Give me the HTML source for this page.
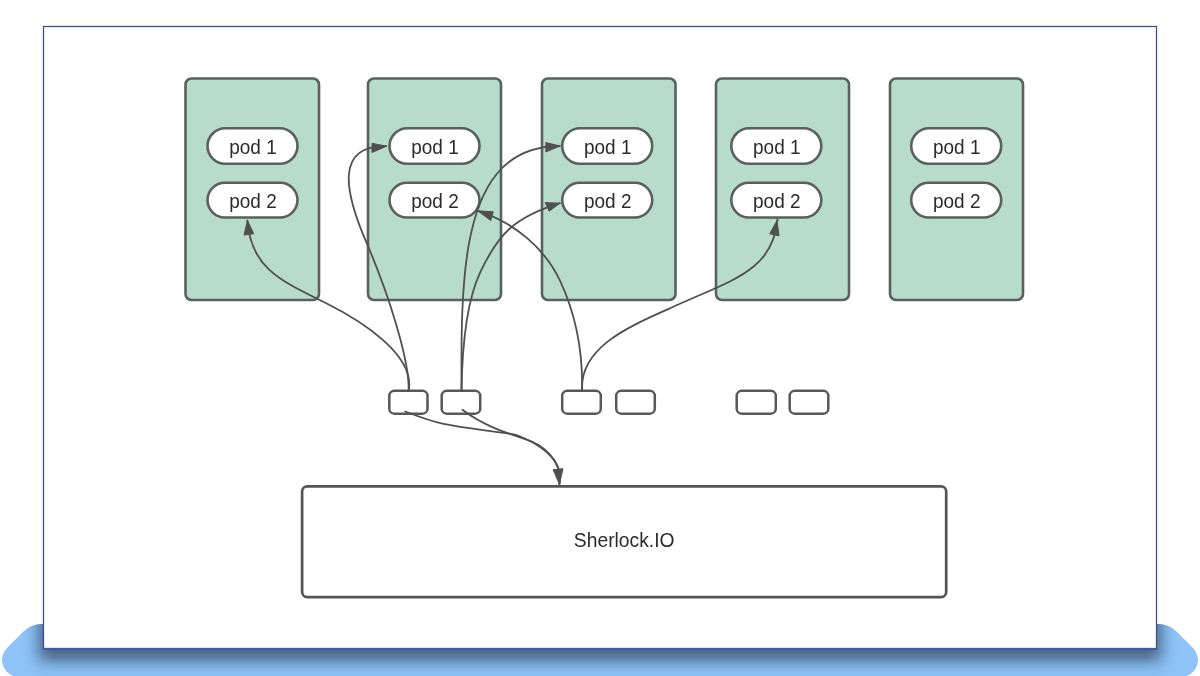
<!DOCTYPE html>
<html><head><meta charset="utf-8"><style>
html,body{margin:0;padding:0;background:#fff;width:1200px;height:676px;overflow:hidden}
svg{display:block;will-change:transform}
text{font-family:"Liberation Sans",sans-serif;font-size:19px;fill:#2b2b2b;text-anchor:middle}
</style></head><body>
<svg width="1200" height="676" viewBox="0 0 1200 676">
<defs>
<clipPath id="plat"><path d="M41.8 624 L1158.2 624 A26 26 0 0 1 1176.6 631.6 L1193 648 A17 17 0 0 1 1181 677 L19 677 A17 17 0 0 1 7 648 L23.4 631.6 A26 26 0 0 1 41.8 624 Z"/></clipPath>
<filter id="blur" x="-10%" y="-10%" width="120%" height="120%"><feGaussianBlur stdDeviation="7.5"/></filter>
</defs>
<path d="M41.8 624 L1158.2 624 A26 26 0 0 1 1176.6 631.6 L1193 648 A17 17 0 0 1 1181 677 L19 677 A17 17 0 0 1 7 648 L23.4 631.6 A26 26 0 0 1 41.8 624 Z" fill="#8ec3f8"/>
<g clip-path="url(#plat)"><rect x="39" y="30" width="1122" height="631" fill="#0a1525" opacity="0.56" filter="url(#blur)"/></g>
<rect x="43.5" y="26.5" width="1113" height="622" fill="#fff" stroke="#3f5088" stroke-width="1.3"/>
<line x1="43" y1="649" x2="1157.3" y2="649" stroke="#3f5ba3" stroke-width="2"/>
<rect x="185.5" y="78.5" width="133.5" height="221.5" rx="6" fill="#b8dccc" stroke="#59605d" stroke-width="2.6"/>
<rect x="207.5" y="128.3" width="90" height="35.5" rx="17.8" fill="#fff" stroke="#59605d" stroke-width="2.6"/>
<text transform="translate(253.0 154.2) scale(1 1.045)">pod 1</text>
<rect x="207.5" y="182.7" width="90" height="34.8" rx="17.4" fill="#fff" stroke="#59605d" stroke-width="2.6"/>
<text transform="translate(253.0 208.1) scale(1 1.045)">pod 2</text>
<rect x="368.0" y="78.5" width="133.0" height="221.5" rx="6" fill="#b8dccc" stroke="#59605d" stroke-width="2.6"/>
<rect x="389.5" y="128.3" width="90" height="35.5" rx="17.8" fill="#fff" stroke="#59605d" stroke-width="2.6"/>
<text transform="translate(435.0 154.2) scale(1 1.045)">pod 1</text>
<rect x="389.5" y="182.7" width="90" height="34.8" rx="17.4" fill="#fff" stroke="#59605d" stroke-width="2.6"/>
<text transform="translate(435.0 208.1) scale(1 1.045)">pod 2</text>
<rect x="542.0" y="78.5" width="133.5" height="221.5" rx="6" fill="#b8dccc" stroke="#59605d" stroke-width="2.6"/>
<rect x="562.2" y="128.3" width="90" height="35.5" rx="17.8" fill="#fff" stroke="#59605d" stroke-width="2.6"/>
<text transform="translate(607.7 154.2) scale(1 1.045)">pod 1</text>
<rect x="562.2" y="182.7" width="90" height="34.8" rx="17.4" fill="#fff" stroke="#59605d" stroke-width="2.6"/>
<text transform="translate(607.7 208.1) scale(1 1.045)">pod 2</text>
<rect x="716.0" y="78.5" width="133.0" height="221.5" rx="6" fill="#b8dccc" stroke="#59605d" stroke-width="2.6"/>
<rect x="731.3" y="128.3" width="90" height="35.5" rx="17.8" fill="#fff" stroke="#59605d" stroke-width="2.6"/>
<text transform="translate(776.8 154.2) scale(1 1.045)">pod 1</text>
<rect x="731.3" y="182.7" width="90" height="34.8" rx="17.4" fill="#fff" stroke="#59605d" stroke-width="2.6"/>
<text transform="translate(776.8 208.1) scale(1 1.045)">pod 2</text>
<rect x="890.0" y="78.5" width="133.0" height="221.5" rx="6" fill="#b8dccc" stroke="#59605d" stroke-width="2.6"/>
<rect x="911.2" y="128.3" width="90" height="35.5" rx="17.8" fill="#fff" stroke="#59605d" stroke-width="2.6"/>
<text transform="translate(956.7 154.2) scale(1 1.045)">pod 1</text>
<rect x="911.2" y="182.7" width="90" height="34.8" rx="17.4" fill="#fff" stroke="#59605d" stroke-width="2.6"/>
<text transform="translate(956.7 208.1) scale(1 1.045)">pod 2</text>
<rect x="389.3" y="390.8" width="38.2" height="22.9" rx="5" fill="#fff" stroke="#585858" stroke-width="2.5"/>
<rect x="441.7" y="390.8" width="38.5" height="22.9" rx="5" fill="#fff" stroke="#585858" stroke-width="2.5"/>
<rect x="562.2" y="390.8" width="38.6" height="22.9" rx="5" fill="#fff" stroke="#585858" stroke-width="2.5"/>
<rect x="616.2" y="390.8" width="38.6" height="22.9" rx="5" fill="#fff" stroke="#585858" stroke-width="2.5"/>
<rect x="736.7" y="390.8" width="39.1" height="22.9" rx="5" fill="#fff" stroke="#585858" stroke-width="2.5"/>
<rect x="789.7" y="390.8" width="38.6" height="22.9" rx="5" fill="#fff" stroke="#585858" stroke-width="2.5"/>
<rect x="302.1" y="486.4" width="644.1" height="110.7" rx="5" fill="#fff" stroke="#555" stroke-width="2.7"/>
<text transform="translate(624.2 546.5) scale(1 1.05)" style="font-size:19.3px">Sherlock.IO</text>
<path d="M408.6 391.0 C415.9 355.3 361.8 321.0 325.3 302.8 C282.0 281.2 251.0 269.1 247.3 220.3" fill="none" stroke="#505050" stroke-width="1.8" stroke-linecap="round"/>
<path d="M408.6 391.0 C409.8 359.4 387.6 291.6 365.9 241.2 C343.8 189.6 336.0 145.4 386.2 146.2" fill="none" stroke="#505050" stroke-width="1.8" stroke-linecap="round"/>
<path d="M461.5 391.0 C461.6 356.8 460.0 291.7 469.2 242.4 C479.3 188.3 502.3 146.2 559.9 146.0" fill="none" stroke="#505050" stroke-width="1.8" stroke-linecap="round"/>
<path d="M461.5 391.0 C462.0 357.1 464.3 306.0 480.2 272.4 C497.9 234.7 513.6 217.5 559.9 203.2" fill="none" stroke="#505050" stroke-width="1.8" stroke-linecap="round"/>
<path d="M582.1 391.0 C582.9 352.3 577.2 317.4 560.0 280.7 C545.4 249.5 515.2 222.5 477.8 210.8" fill="none" stroke="#505050" stroke-width="1.8" stroke-linecap="round"/>
<path d="M582.1 391.0 C579.1 345.2 633.3 324.9 677.7 304.8 C734.2 279.2 772.9 270.0 777.6 219.2" fill="none" stroke="#505050" stroke-width="1.8" stroke-linecap="round"/>
<path d="M405.2 411.5 C437.5 423.9 440.4 424.8 509.9 433.7 C520.7 435.0 566.0 452.9 559.4 484.2" fill="none" stroke="#505050" stroke-width="1.8" stroke-linecap="round"/>
<path d="M462.4 409.8 C482.9 425.3 505.2 432.8 525.2 439.1 C543.1 444.7 562.5 460.4 559.4 484.2" fill="none" stroke="#505050" stroke-width="1.8" stroke-linecap="round"/>
<polygon points="247.5,220.4 244.0,235.1 253.7,233.7" fill="#505050" stroke="#505050" stroke-width="1" stroke-linejoin="round"/>
<polygon points="386.6,146.2 372.0,143.3 372.0,152.6" fill="#505050" stroke="#505050" stroke-width="1" stroke-linejoin="round"/>
<polygon points="559.9,146.0 545.9,142.6 545.9,152.0" fill="#505050" stroke="#505050" stroke-width="1" stroke-linejoin="round"/>
<polygon points="559.9,203.2 545.2,202.6 549.2,211.2" fill="#505050" stroke="#505050" stroke-width="1" stroke-linejoin="round"/>
<polygon points="477.8,210.8 493.3,211.8 490.7,220.6" fill="#505050" stroke="#505050" stroke-width="1" stroke-linejoin="round"/>
<polygon points="777.0,220.4 769.8,233.8 779.0,235.9" fill="#505050" stroke="#505050" stroke-width="1" stroke-linejoin="round"/>
<polygon points="559.4,484.2 553.1,469.7 563.0,468.7" fill="#505050" stroke="#505050" stroke-width="1" stroke-linejoin="round"/>
</svg>
</body></html>
